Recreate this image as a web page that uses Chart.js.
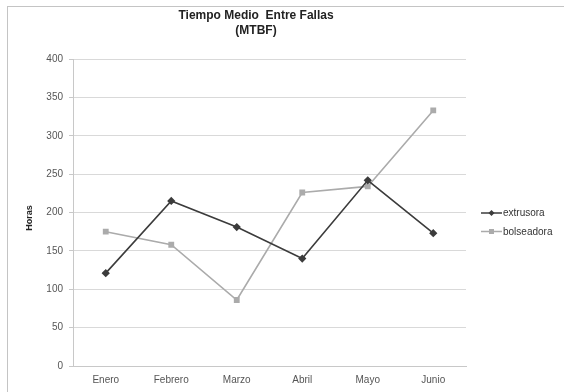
<!DOCTYPE html>
<html>
<head>
<meta charset="utf-8">
<script src="https://cdn.jsdelivr.net/npm/chart.js@4/dist/chart.umd.min.js"></script>
<style>
  html, body { margin: 0; padding: 0; background: #fff; }
  #wrap { position: relative; width: 564px; height: 392px; }
  #frame { position: absolute; left: 7px; top: 6px; right: 0; bottom: 0; border-left: 1px solid #c4c4c4; border-top: 1px solid #c4c4c4; }
  canvas { position: absolute; left: 0; top: 0; }
</style>
</head>
<body>
<div id="wrap">
  <div id="frame"></div>
  <canvas id="chart" width="564" height="392"></canvas>
</div>
<script>
const months = ['Enero', 'Febrero', 'Marzo', 'Abril', 'Mayo', 'Junio'];
const extrusora = [121, 215, 181, 140, 242, 173];
const bolseadora = [175, 158, 86, 226, 234, 333];
const seriesNames = ['extrusora', 'bolseadora'];
const titleLines = ['Tiempo Medio  Entre Fallas', '(MTBF)'];
const yTitle = 'Horas';

const FONT = '"Liberation Sans", Arial, sans-serif';

// title, y title and legend drawn by hand so they land where the original has them
const decorations = {
  id: 'decorations',
  afterDraw(chart) {
    const ctx = chart.ctx;
    ctx.save();
    ctx.fillStyle = '#222';
    ctx.textAlign = 'center';
    ctx.textBaseline = 'middle';
    ctx.font = 'bold 12px ' + FONT;
    titleLines.forEach((t, i) => ctx.fillText(t, 256, 16 + i * 15));

    ctx.save();
    ctx.translate(30, 218);
    ctx.rotate(-Math.PI / 2);
    ctx.font = 'bold 9px ' + FONT;
    ctx.fillText(yTitle, 0, 0);
    ctx.restore();

    chart.data.datasets.forEach((ds, i) => {
      const y = 213 + i * 18.5;
      ctx.strokeStyle = ds.borderColor;
      ctx.lineWidth = 1.5;
      ctx.beginPath();
      ctx.moveTo(481, y);
      ctx.lineTo(502, y);
      ctx.stroke();
      ctx.fillStyle = ds.borderColor;
      if (ds.pointStyle === 'rect') {
        ctx.fillRect(489, y - 2.5, 5, 5);
      } else {
        ctx.beginPath();
        ctx.moveTo(491.5, y - 3);
        ctx.lineTo(494.5, y);
        ctx.lineTo(491.5, y + 3);
        ctx.lineTo(488.5, y);
        ctx.closePath();
        ctx.fill();
      }
      ctx.fillStyle = '#333';
      ctx.textAlign = 'left';
      ctx.font = '10px ' + FONT;
      ctx.fillText(seriesNames[i], 503, y + 0.5);
    });
    ctx.restore();
  }
};

new Chart(document.getElementById('chart'), {
  type: 'line',
  data: {
    labels: months,
    datasets: [
      {
        label: seriesNames[0],
        data: extrusora,
        borderColor: '#3c3c3c',
        backgroundColor: '#3c3c3c',
        borderWidth: 1.6,
        pointStyle: 'rectRot',
        pointRadius: 3,
        tension: 0
      },
      {
        label: seriesNames[1],
        data: bolseadora,
        borderColor: '#ababab',
        backgroundColor: '#ababab',
        borderWidth: 1.6,
        pointStyle: 'rect',
        pointRadius: 3,
        tension: 0
      }
    ]
  },
  options: {
    responsive: false,
    animation: false,
    layout: { padding: { top: 59, left: 0, right: 98, bottom: 0 } },
    plugins: {
      legend: { display: false },
      title: { display: false },
      tooltip: { enabled: false }
    },
    scales: {
      x: {
        offset: true,
        grid: { display: false, drawTicks: false },
        border: { display: true, color: '#c8c8c8' },
        ticks: { color: '#555', font: { family: FONT, size: 10 }, padding: 8, maxRotation: 0 },
        afterFit(scale) { scale.height = 26; }
      },
      y: {
        min: 0,
        max: 400,
        ticks: { stepSize: 50, color: '#555', font: { family: FONT, size: 10 }, padding: 6 },
        grid: { color: '#d9d9d9', tickLength: 4, tickColor: '#c8c8c8' },
        border: { display: true, color: '#c8c8c8' },
        afterFit(scale) { scale.width = 73; }
      }
    }
  },
  plugins: [decorations]
});
</script>
</body>
</html>
